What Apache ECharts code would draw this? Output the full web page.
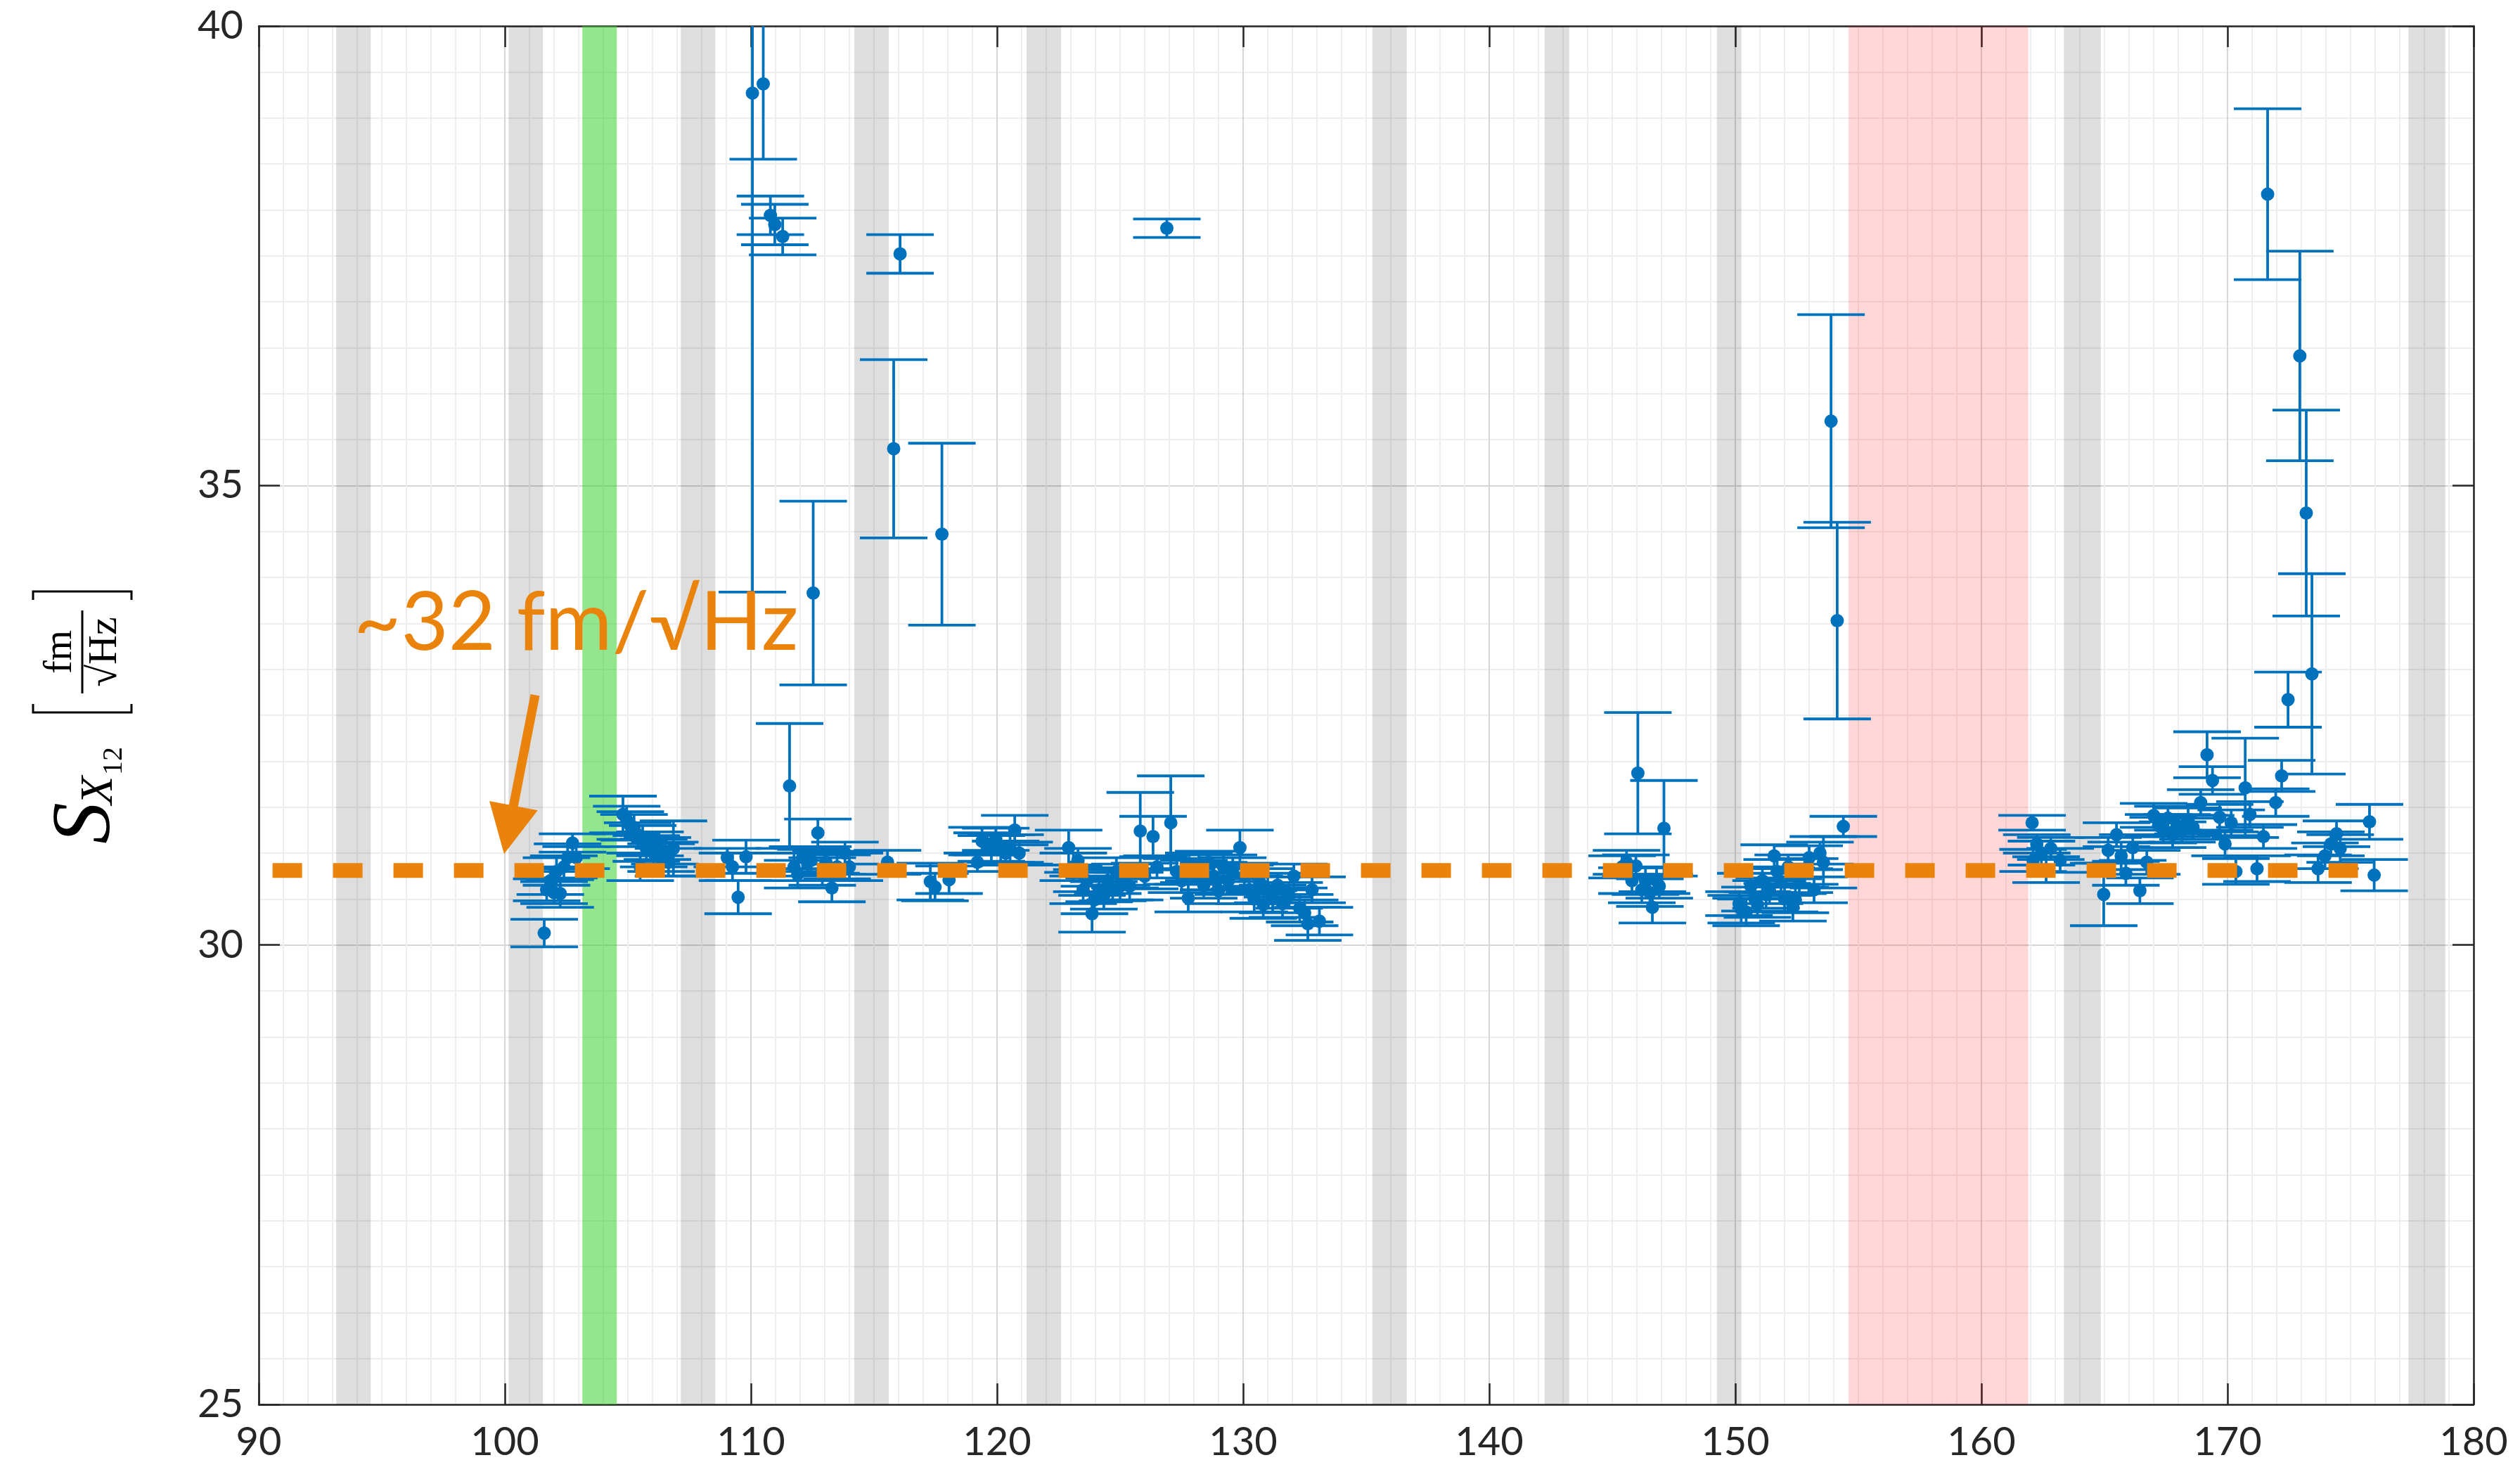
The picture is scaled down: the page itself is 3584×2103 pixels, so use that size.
<!DOCTYPE html>
<html>
<head>
<meta charset="utf-8">
<script src="https://cdn.jsdelivr.net/npm/echarts@6/dist/echarts.min.js"></script>
<style>
html,body{margin:0;padding:0;background:#fff;}
#chart{width:3584px;height:2103px;}
</style>
</head>
<body>
<div id="chart"></div>
<script>
// ---------- data (frequency in Hz, amplitude spectral density, symmetric error) ----------
const freq = [
  101.60,101.70,101.85,102.00,102.10,102.25,102.40,102.55,102.75,102.90,
  104.80,104.95,105.10,105.25,105.40,105.50,105.60,105.75,105.90,106.05,106.20,106.35,106.50,106.65,106.85,
  109.04,109.25,109.48,109.80,110.06,110.50,110.79,110.97,111.29,111.57,111.75,111.90,112.10,112.30,112.44,112.53,112.72,112.90,113.05,113.29,113.50,113.82,114.00,
  115.55,115.80,116.06,117.29,117.48,117.76,118.05,119.20,119.39,119.60,119.77,119.95,120.15,120.35,120.53,120.72,120.90,
  122.91,123.10,123.29,123.50,123.65,123.86,123.96,124.15,124.34,124.50,124.70,124.85,125.00,125.20,125.39,125.82,126.00,126.34,126.50,126.90,
  127.06,127.30,127.50,127.77,128.00,128.20,128.40,128.60,128.80,129.00,129.20,129.40,129.58,129.87,130.05,130.25,130.45,130.65,130.82,131.00,
  131.20,131.40,131.60,131.87,132.06,132.30,132.50,132.63,132.80,133.10,
  145.40,145.58,145.80,145.96,146.04,146.20,146.35,146.53,146.63,146.80,146.91,147.10,
  150.15,150.24,150.44,150.63,150.80,150.90,151.10,151.25,151.39,151.58,151.70,151.86,152.00,152.15,152.34,152.44,152.60,152.82,153.00,153.20,
  153.44,153.58,153.89,154.14,154.39,
  162.06,162.10,162.25,162.44,162.63,162.82,163.20,164.97,165.15,165.49,165.68,165.87,166.15,166.44,166.72,167.00,167.20,167.39,167.58,167.77,
  167.95,168.15,168.40,168.60,168.91,169.17,169.39,169.68,169.90,170.15,170.34,170.72,170.91,171.20,171.46,171.63,171.96,172.20,172.46,172.94,
  173.20,173.43,173.68,173.96,174.20,174.43,174.58,175.77,175.96
];
const asd = [
  30.13,30.60,30.70,30.57,30.80,30.56,30.85,30.95,31.11,30.95,
  31.42,31.36,31.30,31.28,31.20,30.85,31.15,31.05,31.10,31.00,31.05,30.95,31.00,30.90,31.05,
  30.95,30.85,30.52,30.96,39.27,39.37,37.94,37.84,37.71,31.73,30.85,30.77,30.95,30.90,30.92,33.83,31.22,30.80,30.90,30.62,30.85,31.00,30.85,
  30.90,35.40,37.52,30.69,30.63,34.47,30.71,30.90,31.13,31.10,31.05,31.15,31.05,31.00,31.05,31.25,31.00,
  31.06,30.85,30.92,30.60,30.70,30.34,30.49,30.60,30.54,30.70,30.60,30.80,30.64,30.75,30.64,31.24,30.75,31.18,30.85,37.80,
  31.33,30.80,30.70,30.51,30.80,30.85,30.65,30.90,30.75,30.59,30.85,30.70,30.82,31.06,30.75,30.60,30.50,30.70,30.44,30.60,
  30.50,30.65,30.45,30.54,30.75,30.40,30.35,30.23,30.60,30.26,
  30.85,30.90,30.70,30.86,31.87,30.60,30.70,30.57,30.41,30.70,30.64,31.27,
  30.45,30.39,30.36,30.64,30.50,30.44,30.70,30.55,30.59,30.97,30.80,30.69,30.50,30.85,30.41,30.49,30.70,30.80,30.95,30.60,
  31.00,30.90,35.70,33.53,31.29,
  31.33,30.92,31.10,31.00,30.82,31.05,30.92,30.55,31.03,31.20,30.97,30.78,31.06,30.59,30.90,31.41,31.30,31.25,31.38,31.20,
  31.30,31.25,31.35,31.28,31.55,32.07,31.79,31.39,31.10,31.33,30.80,31.71,31.42,30.83,31.18,38.17,31.55,31.84,32.67,36.41,
  34.70,32.95,30.83,30.97,31.10,31.21,31.05,31.34,30.76
];
const err = [
  0.15,0.12,0.15,0.12,0.15,0.15,0.12,0.15,0.10,0.12,
  0.20,0.15,0.15,0.14,0.13,0.15,0.15,0.14,0.13,0.15,0.12,0.15,0.12,0.15,0.30,
  0.10,0.15,0.18,0.18,5.43,0.82,0.21,0.22,0.20,0.68,0.15,0.15,0.12,0.15,0.12,1.00,0.15,0.15,0.12,0.15,0.13,0.12,0.15,
  0.13,0.97,0.21,0.20,0.15,0.99,0.15,0.10,0.15,0.12,0.14,0.12,0.15,0.13,0.15,0.16,0.12,
  0.19,0.15,0.13,0.15,0.12,0.20,0.15,0.13,0.15,0.14,0.12,0.15,0.15,0.13,0.15,0.42,0.14,0.22,0.12,0.10,
  0.51,0.14,0.13,0.15,0.12,0.15,0.14,0.12,0.15,0.14,0.13,0.15,0.13,0.19,0.14,0.15,0.14,0.13,0.15,0.14,
  0.15,0.13,0.15,0.14,0.13,0.15,0.14,0.18,0.14,0.15,
  0.12,0.13,0.14,0.12,0.66,0.14,0.15,0.15,0.17,0.14,0.13,0.52,
  0.13,0.15,0.15,0.14,0.13,0.14,0.13,0.15,0.14,0.12,0.13,0.15,0.14,0.13,0.15,0.14,0.13,0.14,0.13,0.14,
  0.12,0.28,1.16,1.07,0.11,
  0.08,0.12,0.10,0.13,0.14,0.12,0.13,0.34,0.14,0.13,0.15,0.13,0.14,0.14,0.13,0.13,0.12,0.14,0.13,0.14,
  0.12,0.13,0.14,0.13,0.14,0.25,0.15,0.14,0.13,0.14,0.14,0.54,0.14,0.14,0.13,0.93,0.15,0.17,0.30,1.14,
  1.12,1.09,0.15,0.14,0.13,0.14,0.15,0.19,0.17
];
// shaded frequency bands [start, end]
const grayBands = [[93.15,94.55],[100.15,101.55],[107.15,108.55],[114.2,115.6],[121.2,122.6],
                   [135.25,136.65],[142.25,143.25],[149.25,150.25],[163.35,164.85],[177.35,178.85]];
const greenBands = [[103.15,104.55]];
const redBands = [[154.6,161.9]];
// reference level (dashed line) and its extent
const refLevel = 30.81;
const refRange = [90.56, 175.34];
// annotation
const annoText = '~32 fm/\u221AHz';
const annoTextPos = [93.86, 33.50];
const arrowStart = [101.23, 32.72];
const arrowTip = [99.97, 30.99];
// axes
const xTicks = [90, 180, 10];
const yTicks = [25, 40, 5];

const BLUE = '#0072bd';
const ORANGE = '#e9830c';
const AX = '#262626';

const pts = freq.map((f, i) => [f, asd[i], err[i]]);

function bandData(bands, color) {
  return bands.map(b => [{xAxis: b[0], itemStyle: {color: color}}, {xAxis: b[1]}]);
}

const chart = echarts.init(document.getElementById('chart'), null, {renderer: 'canvas'});

const axisCommon = {
  type: 'value',
  axisLine: {show: true, onZero: false, lineStyle: {color: AX, width: 2.5}},
  axisTick: {show: true, inside: true, length: 30, lineStyle: {color: AX, width: 2.5}},
};

const option = {
  backgroundColor: '#ffffff',
  animation: false,
  grid: {left: 368, right: 66, top: 37, bottom: 106, containLabel: false},
  xAxis: [
    Object.assign({}, axisCommon, {
      position: 'bottom', min: xTicks[0], max: xTicks[1], interval: xTicks[2],
      axisLabel: {show: true, fontSize: 56, fontFamily: 'Lato', color: AX, margin: 26},
      splitLine: {show: true, lineStyle: {color: '#d6d6d6', width: 2}},
      minorTick: {show: false, splitNumber: 10},
      minorSplitLine: {show: true, lineStyle: {color: '#eeeeee', width: 2}}
    }),
    Object.assign({}, axisCommon, {
      position: 'top', min: xTicks[0], max: xTicks[1], interval: xTicks[2],
      axisLabel: {show: false}, splitLine: {show: false}
    })
  ],
  yAxis: [
    Object.assign({}, axisCommon, {
      position: 'left', min: yTicks[0], max: yTicks[1], interval: yTicks[2],
      axisLabel: {show: true, fontSize: 56, fontFamily: 'Lato', color: AX, margin: 22},
      splitLine: {show: true, lineStyle: {color: '#d6d6d6', width: 2}},
      minorTick: {show: false, splitNumber: 10},
      minorSplitLine: {show: true, lineStyle: {color: '#eeeeee', width: 2}}
    }),
    Object.assign({}, axisCommon, {
      position: 'right', min: yTicks[0], max: yTicks[1], interval: yTicks[2],
      axisLabel: {show: false}, splitLine: {show: false}
    })
  ],
  series: [
    {
      name: 'bands', type: 'scatter', data: [], z: 1, silent: true,
      markArea: {
        silent: true,
        data: [].concat(
          bandData(grayBands, 'rgba(0,0,0,0.13)'),
          bandData(greenBands, 'rgba(60,210,50,0.55)'),
          bandData(redBands, 'rgba(255,0,0,0.155)')
        )
      }
    },
    {
      name: 'errorbars', type: 'custom', data: pts, z: 3, clip: true, silent: true,
      encode: {x: 0, y: 1},
      renderItem: function (params, api) {
        const x = api.value(0), y = api.value(1), e = api.value(2);
        const c = api.coord([x, y]);
        const t = api.coord([x, y + e]);
        const b = api.coord([x, y - e]);
        const hw = 48;
        const st = {stroke: BLUE, lineWidth: 3.8, fill: null};
        return {type: 'group', children: [
          {type: 'line', shape: {x1: c[0], y1: t[1], x2: c[0], y2: b[1]}, style: st},
          {type: 'line', shape: {x1: c[0] - hw, y1: t[1], x2: c[0] + hw, y2: t[1]}, style: st},
          {type: 'line', shape: {x1: c[0] - hw, y1: b[1], x2: c[0] + hw, y2: b[1]}, style: st}
        ]};
      }
    },
    {
      name: 'points', type: 'scatter', data: pts, z: 4, silent: true,
      symbol: 'circle', symbolSize: 19, itemStyle: {color: BLUE, opacity: 1},
      encode: {x: 0, y: 1}
    },
    {
      name: 'reference', type: 'line', z: 5, silent: true,
      data: [[refRange[0], refLevel], [refRange[1], refLevel]],
      symbol: 'none',
      lineStyle: {color: ORANGE, width: 21, type: [42, 44], cap: 'butt'}
    },
    {
      name: 'annotation', type: 'custom', z: 6, silent: true, clip: false,
      data: [[arrowTip[0], arrowTip[1]]],
      encode: {x: 0, y: 1},
      renderItem: function (params, api) {
        const S = api.coord(arrowStart);
        const T = api.coord(arrowTip);
        const P = api.coord(annoTextPos);
        let dx = T[0] - S[0], dy = T[1] - S[1];
        const L = Math.sqrt(dx * dx + dy * dy);
        dx /= L; dy /= L;
        const hl = 70, hw = 35;
        const B = [T[0] - dx * hl, T[1] - dy * hl];
        const n = [-dy, dx];
        return {type: 'group', children: [
          {type: 'line', shape: {x1: S[0], y1: S[1], x2: B[0] + dx * 4, y2: B[1] + dy * 4},
           style: {stroke: ORANGE, lineWidth: 13}},
          {type: 'polygon', shape: {points: [T, [B[0] + n[0] * hw, B[1] + n[1] * hw], [B[0] - n[0] * hw, B[1] - n[1] * hw]]},
           style: {fill: ORANGE}},
          {type: 'text', x: P[0], y: P[1],
           style: {text: annoText, fill: ORANGE, font: '116px Lato', textAlign: 'left', textVerticalAlign: 'middle', align: 'left', verticalAlign: 'middle'}}
        ]};
      }
    }
  ],
  graphic: [
    {
      type: 'group', x: 164, y: 1200, rotation: Math.PI / 2, silent: true,
      children: [
        {type: 'text', x: 0, y: -40, style: {text: 'S', font: 'italic 118px "Liberation Serif"', fill: '#000', textAlign: 'left', textVerticalAlign: 'middle', align: 'left', verticalAlign: 'middle'}},
        {type: 'text', x: 56, y: -22, style: {text: 'X', font: 'italic 66px "Liberation Serif"', fill: '#000', textAlign: 'left', textVerticalAlign: 'middle', align: 'left', verticalAlign: 'middle'}},
        {type: 'text', x: 98, y: -2, style: {text: '12', font: '40px "Liberation Serif"', fill: '#000', textAlign: 'left', textVerticalAlign: 'middle', align: 'left', verticalAlign: 'middle'}},
        {type: 'polyline', shape: {points: [[199, -117], [187, -117], [187, 23], [199, 23]]}, style: {stroke: '#000', lineWidth: 3, fill: null}},
        {type: 'polyline', shape: {points: [[347, -117], [359, -117], [359, 23], [347, 23]]}, style: {stroke: '#000', lineWidth: 3, fill: null}},
        {type: 'line', shape: {x1: 214, y1: -47, x2: 332, y2: -47}, style: {stroke: '#000', lineWidth: 3}},
        {type: 'text', x: 273, y: -78, style: {text: 'fm', font: '56px "Liberation Serif"', fill: '#000', textAlign: 'center', textVerticalAlign: 'middle', align: 'center', verticalAlign: 'middle'}},
        {type: 'text', x: 273, y: -14, style: {text: '\u221AHz', font: '58px "Liberation Serif"', fill: '#000', textAlign: 'center', textVerticalAlign: 'middle', align: 'center', verticalAlign: 'middle'}}
      ]
    }
  ]
};

chart.setOption(option);
</script>
</body>
</html>
